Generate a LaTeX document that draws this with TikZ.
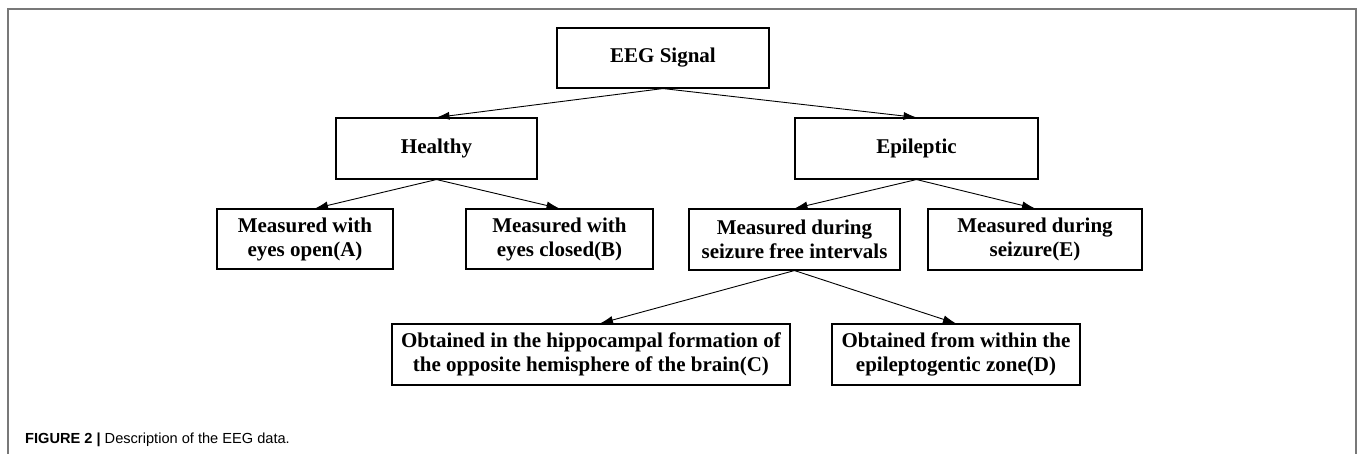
\documentclass[tikz,border=0pt]{standalone}
\usepackage{fontspec}
\setmainfont{Liberation Serif}
\newfontfamily\capfont{Liberation Sans}
\usetikzlibrary{arrows.meta}
\definecolor{framegray}{RGB}{120,120,120}
\tikzset{
  box/.style={draw, line width=1.1pt, inner sep=0pt, align=center,
    font=\fontsize{21}{24}\selectfont\bfseries},
  link/.style={-{Latex[length=13pt,width=8pt]}, line width=0.9pt}
}
\begin{document}
\begin{tikzpicture}[x=1pt, y=-1pt]
        \useasboundingbox (0,0) rectangle (1358,454);
        \draw[framegray, line width=2pt] (8,460) -- (8,9) -- (1355.5,9) -- (1355.5,460);
        % top level
        \node[box, minimum width=212pt, minimum height=60pt] (sig) at (663,58) {EEG Signal};
        \node[box, minimum width=201pt, minimum height=61pt] (hea) at (436.5,148.5) {Healthy};
        \node[box, minimum width=243pt, minimum height=61pt] (epi) at (916.5,148.5) {Epileptic};
        % measurements
        \node[box, minimum width=176pt, minimum height=60pt] (ma) at (305,239) {Measured with\\eyes open(A)};
        \node[box, minimum width=187pt, minimum height=60pt] (mb) at (559.5,239) {Measured with\\eyes closed(B)};
        \node[box, minimum width=211pt, minimum height=61pt] (mf) at (794.5,239.5) {Measured during\\seizure free intervals};
        \node[box, minimum width=214pt, minimum height=61pt] (me) at (1035,239.5) {Measured during\\seizure(E)};
        \node[box, minimum width=398pt, minimum height=61pt] (oc) at (591,354.5) {Obtained in the hippocampal formation of\\the opposite hemisphere of the brain(C)};
        \node[box, minimum width=248pt, minimum height=61pt] (od) at (956,354.5) {Obtained from within the\\epileptogentic zone(D)};
        \draw[link] (sig.south) -- (hea.north);
        \draw[link] (sig.south) -- (epi.north);
        \draw[link] (hea.south) -- ([xshift=10pt]ma.north);
        \draw[link] (hea.south) -- (mb.north);
        \draw[link] (epi.south) -- (mf.north);
        \draw[link] (epi.south) -- (me.north);
        \draw[link] (mf.south) -- ([xshift=9pt]oc.north);
        \draw[link] (mf.south) -- (od.north);
        \node[anchor=base west, inner sep=0pt, font=\capfont\fontsize{14.6}{16}\selectfont] (cap) at (25,443)
          {\textbf{FIGURE 2 |} Description of the EEG data.};
\end{tikzpicture}
\end{document}
